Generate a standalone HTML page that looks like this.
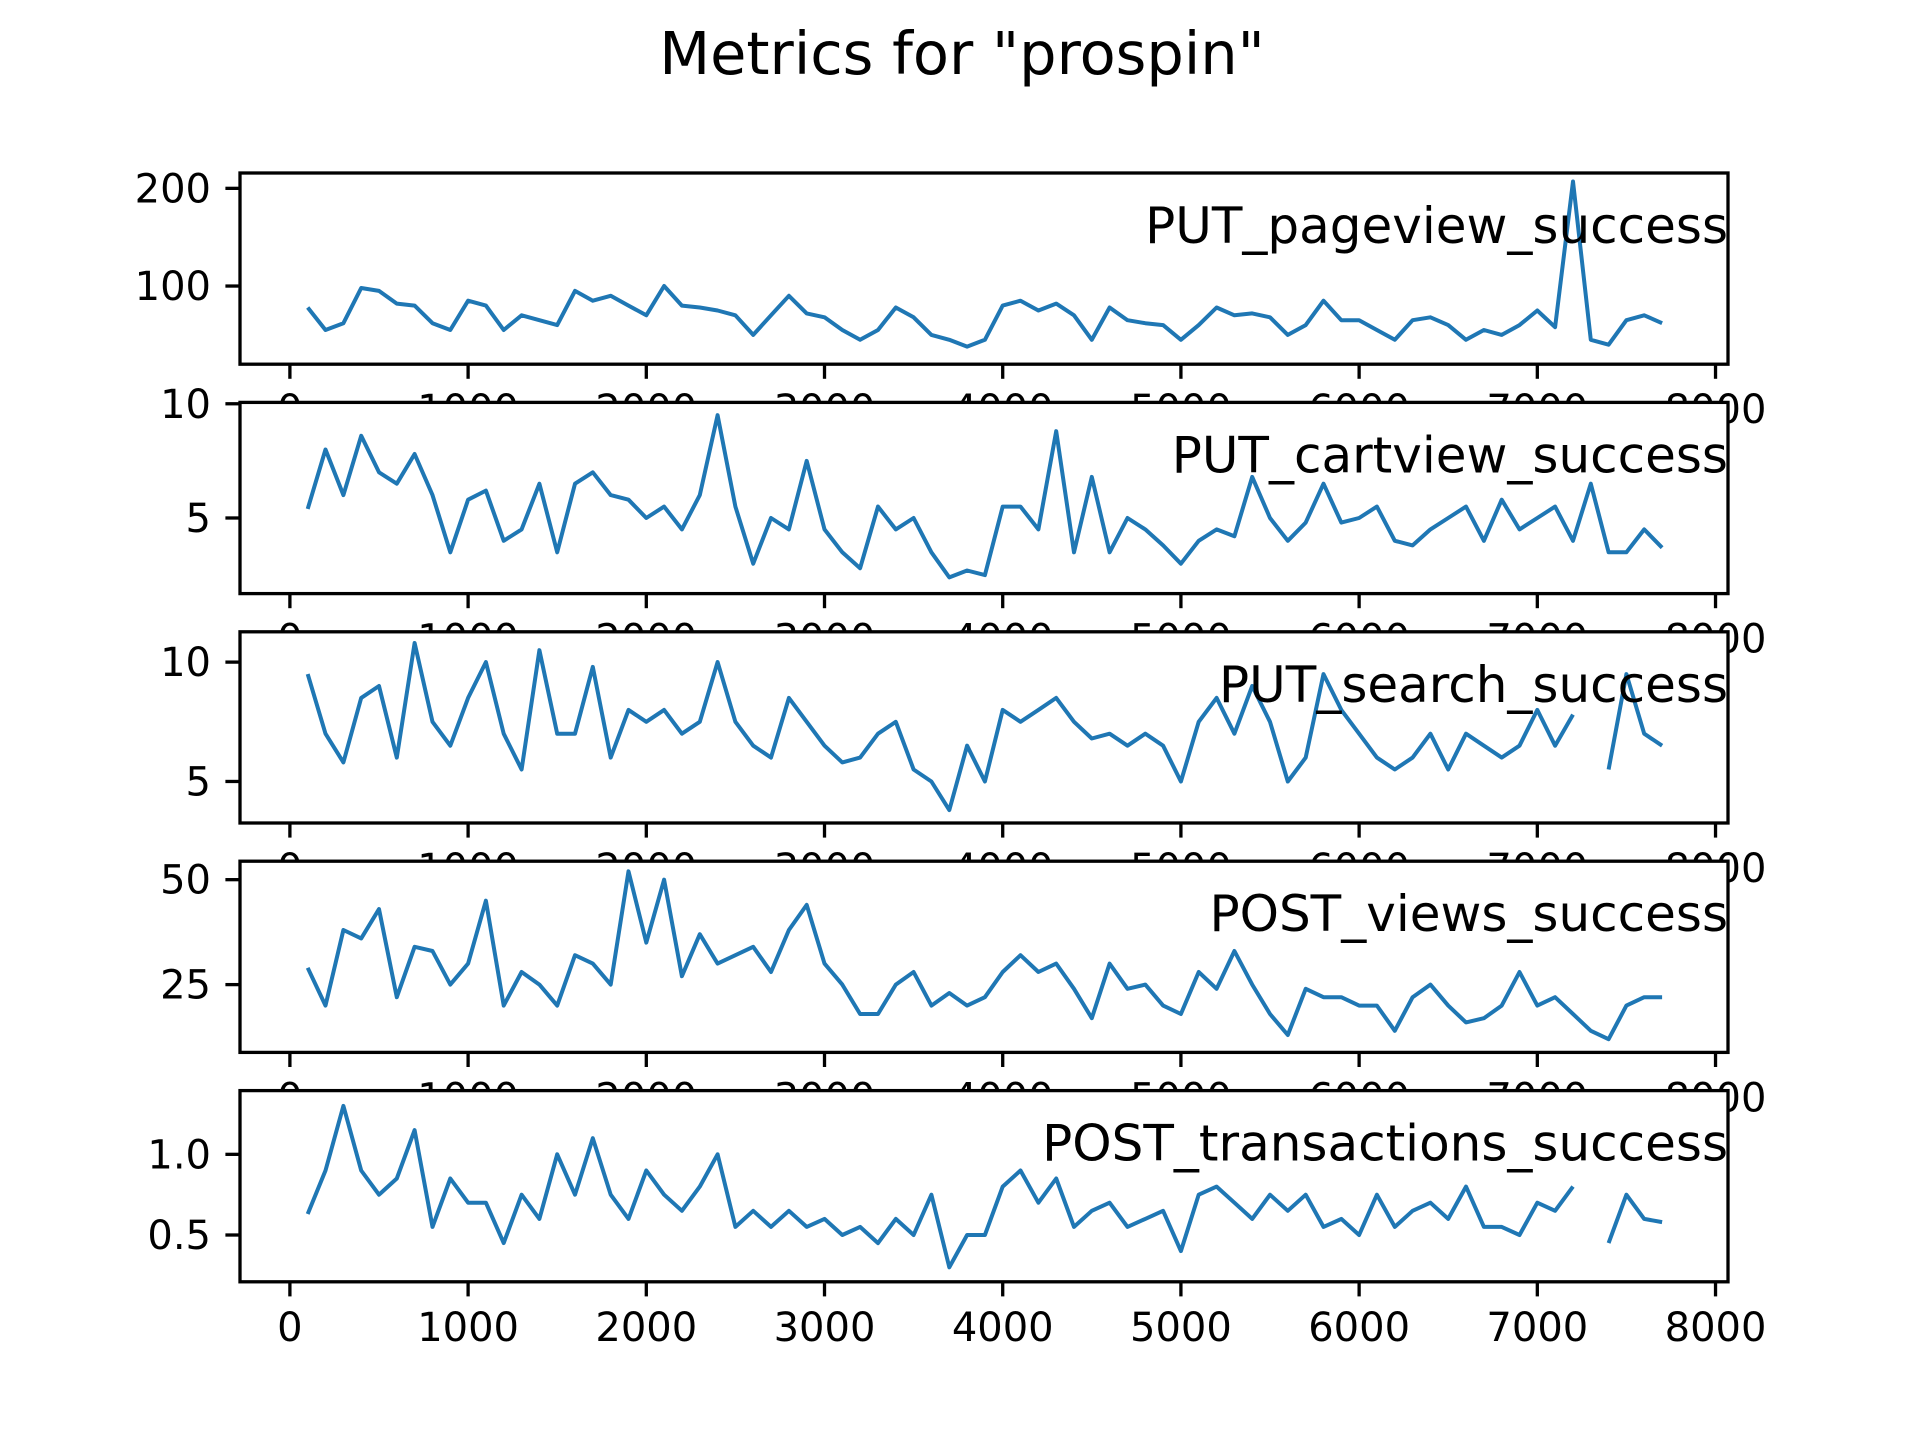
<!DOCTYPE html>
<html><head><meta charset="utf-8"><style>
html,body{margin:0;padding:0;background:#fff;}
svg{display:block;}
text{font-family:"DejaVu Sans","Liberation Sans",sans-serif;fill:#000;}
</style></head>
<body>
<svg id="fig" width="1920" height="1440" viewBox="0 0 1920 1440" xmlns="http://www.w3.org/2000/svg">
<rect x="0" y="0" width="1920" height="1440" fill="#fff"/>
<text x="962" y="74" font-size="59" text-anchor="middle">Metrics for "prospin"</text>
</svg>
<script>
const xValues = [100,200,300,400,500,600,700,800,900,1000,1100,1200,1300,1400,1500,1600,1700,1800,1900,2000,2100,2200,2300,2400,2500,2600,2700,2800,2900,3000,3100,3200,3300,3400,3500,3600,3700,3800,3900,4000,4100,4200,4300,4400,4500,4600,4700,4800,4900,5000,5100,5200,5300,5400,5500,5600,5700,5800,5900,6000,6100,6200,6300,6400,6500,6600,6700,6800,6900,7000,7100,7200,7300,7400,7500,7600,7700];
const pageviewValues = [78,55,62,98,95,82,80,62,55,85,80,55,70,65,60,95,85,90,80,70,100,80,78,75,70,50,70,90,72,68,55,45,55,78,68,50,45,38,45,80,85,75,82,70,45,78,65,62,60,45,60,78,70,72,68,50,60,85,65,65,55,45,65,68,60,45,55,50,60,75,58,207,45,40,65,70,62];
const cartviewValues = [5.4,8.0,6.0,8.6,7.0,6.5,7.8,6.0,3.5,5.8,6.2,4.0,4.5,6.5,3.5,6.5,7.0,6.0,5.8,5.0,5.5,4.5,6.0,9.5,5.5,3.0,5.0,4.5,7.5,4.5,3.5,2.8,5.5,4.5,5.0,3.5,2.4,2.7,2.5,5.5,5.5,4.5,8.8,3.5,6.8,3.5,5.0,4.5,3.8,3.0,4.0,4.5,4.2,6.8,5.0,4.0,4.8,6.5,4.8,5.0,5.5,4.0,3.8,4.5,5.0,5.5,4.0,5.8,4.5,5.0,5.5,4.0,6.5,3.5,3.5,4.5,3.7];
const searchValues = [9.5,7.0,5.8,8.5,9.0,6.0,10.8,7.5,6.5,8.5,10.0,7.0,5.5,10.5,7.0,7.0,9.8,6.0,8.0,7.5,8.0,7.0,7.5,10.0,7.5,6.5,6.0,8.5,7.5,6.5,5.8,6.0,7.0,7.5,5.5,5.0,3.8,6.5,5.0,8.0,7.5,8.0,8.5,7.5,6.8,7.0,6.5,7.0,6.5,5.0,7.5,8.5,7.0,9.0,7.5,5.0,6.0,9.5,8.0,7.0,6.0,5.5,6.0,7.0,5.5,7.0,6.5,6.0,6.5,8.0,6.5,7.8,null,5.5,9.5,7.0,6.5];
const viewsValues = [29,20,38,36,43,22,34,33,25,30,45,20,28,25,20,32,30,25,52,35,50,27,37,30,32,34,28,38,44,30,25,18,18,25,28,20,23,20,22,28,32,28,30,24,17,30,24,25,20,18,28,24,33,25,18,13,24,22,22,20,20,14,22,25,20,16,17,20,28,20,22,18,14,12,20,22,22];
const transactionsValues = [0.63,0.9,1.3,0.9,0.75,0.85,1.15,0.55,0.85,0.7,0.7,0.45,0.75,0.6,1.0,0.75,1.1,0.75,0.6,0.9,0.75,0.65,0.8,1.0,0.55,0.65,0.55,0.65,0.55,0.6,0.5,0.55,0.45,0.6,0.5,0.75,0.3,0.5,0.5,0.8,0.9,0.7,0.85,0.55,0.65,0.7,0.55,0.6,0.65,0.4,0.75,0.8,0.7,0.6,0.75,0.65,0.75,0.55,0.6,0.5,0.75,0.55,0.65,0.7,0.6,0.8,0.55,0.55,0.5,0.7,0.65,0.8,null,0.45,0.75,0.6,0.58];
const xTickLabels = ["0","1000","2000","3000","4000","5000","6000","7000","8000"];
const panelNames = ["PUT_pageview_success","PUT_cartview_success","PUT_search_success","POST_views_success","POST_transactions_success"];
const seriesList = [pageviewValues, cartviewValues, searchValues, viewsValues, transactionsValues];
const yTicks1 = [100,200];
const yTicks2 = [5,10];
const yTicks3 = [5,10];
const yTicks4 = [25,50];
const yTicks5 = [0.5,1.0];
const yTickLabels5 = ["0.5","1.0"];

const NS = "http://www.w3.org/2000/svg";
const svg = document.getElementById('fig');
const L = 240, R = 1728, H = 191.2, GAP = 38.2, TOP = 173;
const XMIN = -280, XMAX = 8070;
const ylims = [[20,215.7],[1.69,10.06],[3.26,11.27],[8.85,54.4],[0.21,1.395]];
const yTicksAll = [yTicks1,yTicks2,yTicks3,yTicks4,yTicks5];
function xScale(v){ return L + (v - XMIN) / (XMAX - XMIN) * (R - L); }
function mk(tag, attrs){ const e = document.createElementNS(NS, tag); for (const k in attrs) e.setAttribute(k, attrs[k]); return e; }

for (let p = 0; p < 5; p++) {
  const top = TOP + p * (H + GAP), bot = top + H;
  const [y0, y1] = ylims[p];
  const yScale = v => bot - (v - y0) / (y1 - y0) * H;
  const g = mk('g', {});
  
  
  svg.appendChild(g);
  const bg = mk('rect', {x:L, y:top, width:R-L, height:H, fill:'#fff'});
  
  
  g.appendChild(bg);
  const vals = seriesList[p];
  let d = '', pen = false;
  for (let i = 0; i < xValues.length; i++) {
    const v = vals[i];
    if (v === null || v === undefined) { pen = false; continue; }
    d += (pen ? 'L' : 'M') + xScale(xValues[i]).toFixed(1) + ' ' + yScale(v).toFixed(1) + ' ';
    pen = true;
  }
  const path = mk('path', {d:d, fill:'none', stroke:'#1f77b4', 'stroke-width':4, 'stroke-linejoin':'round', 'stroke-linecap':'butt'});
  
  
  g.appendChild(path);
  const lab = mk('text', {x:R, y:top+70, 'font-size':50, 'text-anchor':'end'});
  lab.textContent = panelNames[p];
  
  
  g.appendChild(lab);
  const fr = mk('rect', {x:L, y:top, width:R-L, height:H, fill:'none', stroke:'#000', 'stroke-width':3.3});
  
  
  g.appendChild(fr);
  for (let t = 0; t < xTickLabels.length; t++) {
    const xv = +xTickLabels[t];
    const xp = xScale(xv);
    const tk = mk('line', {x1:xp, x2:xp, y1:bot, y2:bot+14.6, stroke:'#000', 'stroke-width':3.3});
    
    
    g.appendChild(tk);
    const tl = mk('text', {x:xp, y:bot+59, 'font-size':40, 'text-anchor':'middle'});
    tl.textContent = xTickLabels[t];
    
    
    g.appendChild(tl);
  }
  const yt = yTicksAll[p];
  for (let t = 0; t < yt.length; t++) {
    const yp = yScale(yt[t]);
    const tk = mk('line', {x1:L-14.6, x2:L, y1:yp, y2:yp, stroke:'#000', 'stroke-width':3.3});
    
    
    g.appendChild(tk);
    const tl = mk('text', {x:L-29, y:yp+14, 'font-size':40, 'text-anchor':'end'});
    tl.textContent = p === 4 ? yTickLabels5[t] : String(yt[t]);
    
    
    g.appendChild(tl);
  }
}
</script>
</body></html>
